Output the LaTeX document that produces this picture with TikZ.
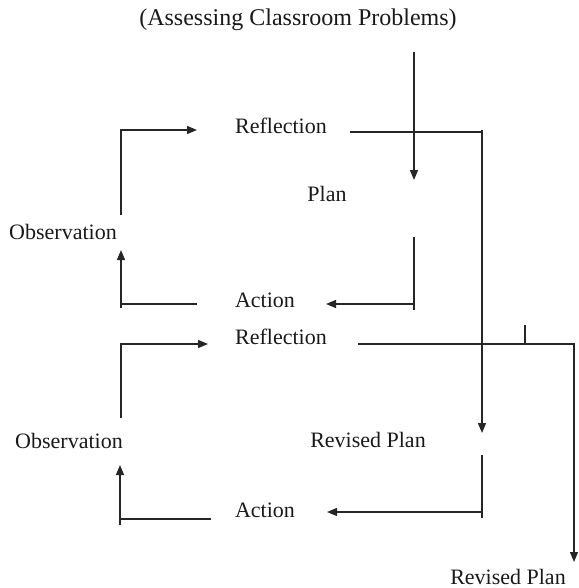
\documentclass[tikz,border=0pt]{standalone}
\usepackage{fontspec}
\setmainfont{Liberation Serif}
\usetikzlibrary{arrows.meta}
\begin{document}
\begin{tikzpicture}[x=1pt,y=-1pt,>={Triangle[length=10pt,width=8pt]},line width=1.3pt,draw=black!85]
\tikzstyle{lbl}=[inner sep=0pt,font=\fontsize{22}{26}\selectfont,text=black!90]
\useasboundingbox (0,0) rectangle (578,588);
% stage labels
\node[lbl,font=\fontsize{24}{28}\selectfont] (title) at (298,20) {(Assessing Classroom Problems)};
\node[lbl] (refl1) at (281,126) {Reflection};
\node[lbl] (plan) at (327,194) {Plan};
\node[lbl] (act1) at (265,300) {Action};
\node[lbl] (obs1) at (63,232) {Observation};
\node[lbl] (refl2) at (281,337) {Reflection};
\node[lbl] (rplan1) at (368,440) {Revised Plan};
\node[lbl] (act2) at (265,510) {Action};
\node[lbl] (obs2) at (69,441) {Observation};
\node[lbl] (rplan2) at (508,577) {Revised Plan};
% line ends
\coordinate (start) at (414,52);
\coordinate (plantip) at (414,180);
\coordinate (p1out) at (414,237);
\coordinate (a1tip) at (326,304);
\coordinate (a1out) at (197,304);
\coordinate (o1tip) at (121,250);
\coordinate (o1out) at (121,215);
\coordinate (r1tip) at (197,130);
\coordinate (r1out) at (350,132);
\coordinate (rp1tip) at (482,433);
\coordinate (rp1out) at (482,455);
\coordinate (a2tip) at (327,512);
\coordinate (a2out) at (211,519);
\coordinate (o2tip) at (120,465);
\coordinate (o2out) at (121,418);
\coordinate (r2tip) at (208,344);
\coordinate (r2out) at (358,344);
\coordinate (rp2tip) at (574,562);
\coordinate (tick) at (525,325);
% first cycle
\draw[->] (start) -- (plantip);
\draw[->] (p1out) |- (a1tip);
\draw (a1tip -| p1out) -- ++(0,6);
\draw[->] (a1out) -| (o1tip);
\draw (o1tip |- a1out) -- ++(0,4);
\draw[->] (o1out) |- (r1tip);
\draw[->] (r1out) -| (rp1tip);
\draw (rp1tip |- r1out) -- ++(0,-2);
% second cycle
\draw[->] (rp1out) |- (a2tip);
\draw (a2tip -| rp1out) -- ++(0,6);
\draw[->] (a2out) -| (o2tip);
\draw (o2tip |- a2out) -- ++(0,6);
\draw[->] (o2out) |- (r2tip);
\draw[->] (r2out) -| (rp2tip);
\draw (tick) -- (tick |- r2out);
\end{tikzpicture}
\end{document}
